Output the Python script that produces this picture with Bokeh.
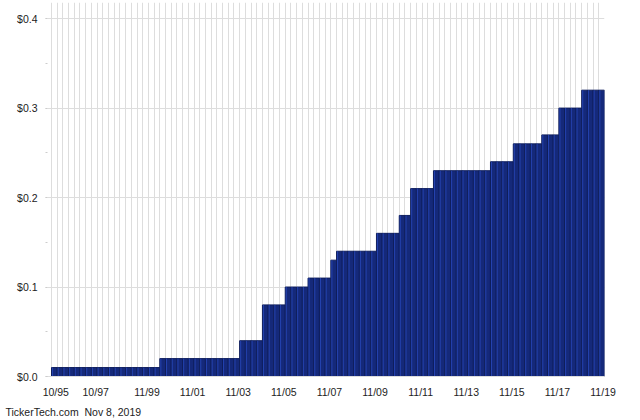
from bokeh.plotting import figure
from bokeh.embed import file_html
from bokeh.resources import INLINE
from bokeh.models import (FixedTicker, SingleIntervalTicker, Range1d, Title,
                          NumeralTickFormatter, ColumnDataSource)

# quarterly dividend per share, one value per bar (oldest first)
dividends = [
    0.0,
    0.01, 0.01, 0.01, 0.01, 0.01, 0.01, 0.01, 0.01, 0.01, 0.01,
    0.01, 0.01, 0.01, 0.01, 0.01, 0.01, 0.01, 0.01, 0.01,
    0.02, 0.02, 0.02, 0.02, 0.02, 0.02, 0.02, 0.02, 0.02, 0.02,
    0.02, 0.02, 0.02, 0.02,
    0.04, 0.04, 0.04, 0.04,
    0.08, 0.08, 0.08, 0.08,
    0.10, 0.10, 0.10, 0.10,
    0.11, 0.11, 0.11, 0.11,
    0.13,
    0.14, 0.14, 0.14, 0.14, 0.14, 0.14, 0.14,
    0.16, 0.16, 0.16, 0.16,
    0.18, 0.18,
    0.21, 0.21, 0.21, 0.21,
    0.23, 0.23, 0.23, 0.23, 0.23, 0.23, 0.23, 0.23, 0.23, 0.23,
    0.24, 0.24, 0.24, 0.24,
    0.26, 0.26, 0.26, 0.26, 0.26,
    0.27, 0.27, 0.27,
    0.30, 0.30, 0.30, 0.30,
    0.32, 0.32, 0.32, 0.32,
]

# bar index at which each date label sits
tick_bars = [1, 8, 17, 25, 33, 41, 49, 57, 65, 73, 81, 89, 97]
tick_labels = ["10/95", "10/97", "11/99", "11/01", "11/03", "11/05", "11/07",
               "11/09", "11/11", "11/13", "11/15", "11/17", "11/19"]
footer = "TickerTech.com\u00a0 Nov 8, 2019"

n = len(dividends)
src = ColumnDataSource(dict(
    x=[i - 0.5 for i in range(n)],
    hx=[i - 0.82 for i in range(n)],
    top=dividends,
))

FONT = "Liberation Sans"
FS = "10.5px"

p = figure(width=640, height=420, output_backend="svg", toolbar_location=None,
           x_range=Range1d(-0.7, 97), y_range=Range1d(0, 0.418),
           min_border_left=47, min_border_right=36, min_border_top=2,
           min_border_bottom=44, title=None)
p.styles = {"position": "absolute", "left": "0px", "top": "0px"}
p.outline_line_color = None
p.background_fill_color = "white"
p.border_fill_color = "white"

# bars
p.vbar(x="x", top="top", width=1.0, bottom=0, source=src,
       fill_color="#15297a", line_color="#0f1e5c", line_width=1)
p.vbar(x="hx", top="top", width=0.18, bottom=0, source=src,
       fill_color="#2747b8", line_color=None, fill_alpha=0.85)

# grids
p.xgrid.ticker = SingleIntervalTicker(interval=1)
p.xgrid.grid_line_color = "#dddddd"
p.xgrid.grid_line_width = 1
p.xgrid.level = "underlay"
p.ygrid.grid_line_color = "#dddddd"
p.ygrid.grid_line_width = 1
p.ygrid.level = "underlay"

# y axis
p.yaxis.ticker = SingleIntervalTicker(interval=0.1, num_minor_ticks=2)
p.yaxis.formatter = NumeralTickFormatter(format="$0.0")
p.yaxis.axis_line_color = None
p.yaxis.major_tick_line_color = "#dddddd"
p.yaxis.major_tick_out = 2
p.yaxis.major_tick_in = 0
p.yaxis.minor_tick_line_color = "#cccccc"
p.yaxis.minor_tick_out = 2
p.yaxis.minor_tick_in = 0
p.yaxis.major_label_standoff = 8
p.yaxis.major_label_text_font = FONT
p.yaxis.major_label_text_font_size = FS
p.yaxis.major_label_text_color = "#222222"

# x axis
p.xaxis.ticker = FixedTicker(ticks=[b - 0.25 for b in tick_bars])
p.xaxis.major_label_overrides = {b - 0.25: lab for b, lab in zip(tick_bars, tick_labels)}
p.xaxis.axis_line_color = "#dddddd"
p.xaxis.major_tick_line_color = None
p.xaxis.minor_tick_line_color = None
p.xaxis.major_tick_out = 0
p.xaxis.major_tick_in = 0
p.xaxis.major_label_standoff = 9
p.xaxis.major_label_text_font = FONT
p.xaxis.major_label_text_font_size = FS
p.xaxis.major_label_text_color = "#222222"

p.add_layout(Title(text=footer, align="left", offset=-42,
                   text_font_size=FS, text_font=FONT, text_font_style="normal",
                   text_color="#222222", standoff=6), "below")

open("out.html", "w").write(file_html(p, INLINE))
